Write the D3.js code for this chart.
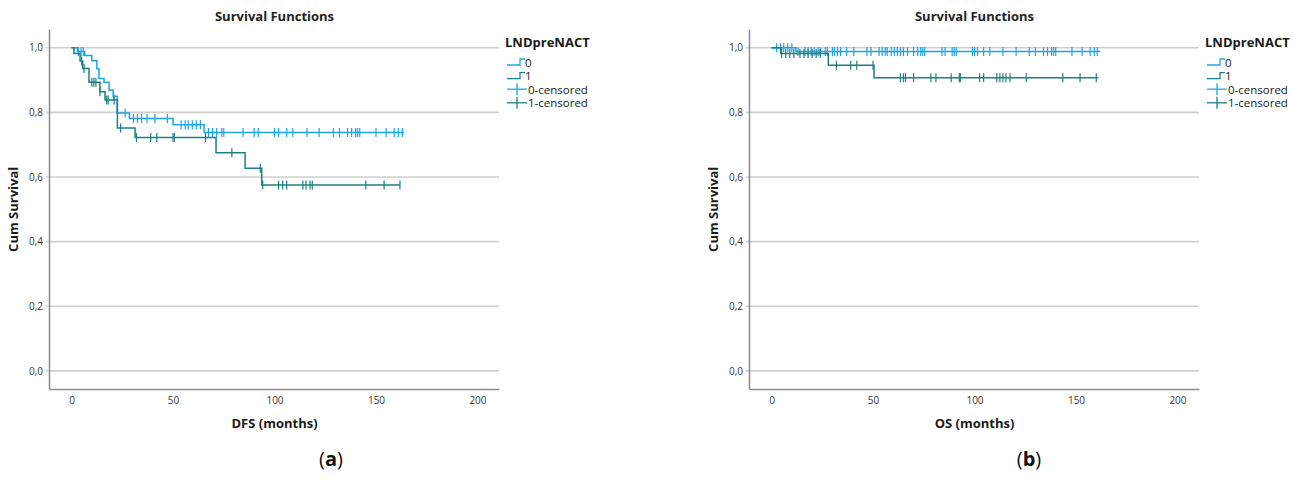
<!DOCTYPE html>
<html>
<head>
<meta charset="utf-8">
<script src="https://cdn.jsdelivr.net/npm/d3@7"></script>
<style>
  body { margin: 0; background: #fff; }
  svg { display: block; }
  text { font-family: "Open Sans", "Noto Sans", sans-serif; }
</style>
</head>
<body>
<svg id="chart" width="1293" height="501"></svg>
<script>
// ---------- DATA ----------
const xTicks = [0, 50, 100, 150, 200];
const yTicks = [0, 0.2, 0.4, 0.6, 0.8, 1.0];
const legendLabels = ["0", "1", "0-censored", "1-censored"];
const groupNames = ["0", "1"];

// DFS, group 0
const dfs0StepTimes = [0, 3, 6.5, 10, 12.5, 13.5, 16, 18.5, 20.5, 22.5, 28.5, 50, 65.3];
const dfs0StepSurv  = [1, 0.988, 0.976, 0.96, 0.935, 0.905, 0.893, 0.869, 0.85, 0.798, 0.781, 0.762, 0.738];
const dfs0End = 163.8;
const dfs0Censored = [3.4, 4.7, 5.8, 20.8, 26.4, 30.5, 32.5, 34.5, 37.2, 41.1, 47.2, 54, 56, 57.5, 59.5, 61.5, 63.5,
  67.5, 69.5, 71.5, 74, 75, 84.5, 90, 92, 100, 102, 106, 109, 116, 122, 129, 132, 136, 138, 140, 141, 142,
  150, 155, 159, 161, 163];

// DFS, group 1
const dfs1StepTimes = [0, 1.2, 4.2, 5.5, 8.6, 14, 16.5, 22.6, 31.3, 71.2, 85.5, 93.7];
const dfs1StepSurv  = [1, 0.982, 0.959, 0.936, 0.893, 0.864, 0.838, 0.752, 0.722, 0.675, 0.627, 0.575];
const dfs1End = 161.8;
const dfs1Censored = [5, 6.2, 10, 11, 12, 14, 17.3, 18.1, 21, 24.2, 32, 39, 42, 50, 50.6, 66, 79, 93,
  94.2, 102, 104, 106, 114, 115.5, 117.5, 118.6, 145, 154, 161.8];

// OS, group 0
const os0StepTimes = [0, 12];
const os0StepSurv  = [1, 0.988];
const os0End = 162;
const os0Censored = [2.5, 4.5, 6, 8, 10, 13, 16.5, 18, 19.5, 21, 23, 24, 26.5, 27.5, 30, 31, 32.5, 34, 37, 40.5,
  47, 49, 53, 54.5, 56, 57, 59, 60.5, 62, 63.5, 65, 67, 70, 72, 73.5, 74.5, 75.5, 84, 85.5, 89, 90, 91,
  99, 100, 101.5, 104.5, 107.5, 114, 120.5, 127, 130, 134, 136, 138, 139, 140, 148, 153, 157, 159, 160.5];

// OS, group 1
const os1StepTimes = [0, 4.5, 28, 50.5];
const os1StepSurv  = [1, 0.982, 0.946, 0.907];
const os1End = 161;
const os1Censored = [5, 7, 9, 11, 14, 16, 18, 20, 22, 24, 32, 39, 42, 50, 63.5, 65, 66, 70, 78.5, 81, 88.5,
  92.5, 93, 102.5, 104.5, 111, 112.5, 114, 115.5, 117.5, 125.5, 143.5, 152, 160];

// ---------- STYLE ----------
const colors = ["#1ea5e9", "#1d8080"];
const gridColor = "#cfcfcf";
const axisColor = "#8c8c8c";

const svg = d3.select("#chart");

function survAt(times, surv, t) {
  let s = surv[0];
  for (let i = 0; i < times.length; i++) if (times[i] <= t) s = surv[i];
  return s;
}

function drawPanel(cfg) {
  const g = svg.append("g");
  const x = d3.scaleLinear().domain([-11.1, 210.6]).range([cfg.left, cfg.left + 450]);
  const y = d3.scaleLinear().domain([-0.056, 1.058]).range([389, 29]);

  // title
  g.append("text").attr("x", x(100)).attr("y", 21).attr("text-anchor", "middle")
    .attr("font-size", 13).attr("font-weight", "bold").attr("fill", "#222").text("Survival Functions");

  // grid lines
  g.selectAll(".grid").data(yTicks).enter().append("line")
    .attr("x1", cfg.left - 3).attr("x2", cfg.left + 450)
    .attr("y1", d => y(d)).attr("y2", d => y(d))
    .attr("stroke", gridColor).attr("stroke-width", 1.6);

  // axes
  const yAxis = d3.axisLeft(y).tickValues(yTicks).tickSize(0).tickPadding(6)
    .tickFormat(d => d3.format(".1f")(d).replace(".", ","));
  const ya = g.append("g").attr("transform", `translate(${cfg.left},0)`).call(yAxis);
  ya.select(".domain").attr("stroke", axisColor).attr("stroke-width", 1.5);
  ya.selectAll("text").attr("font-size", 10).attr("fill", "#3a3530");

  const xAxis = d3.axisBottom(x).tickValues(xTicks).tickSize(0).tickPadding(8);
  const xa = g.append("g").attr("transform", `translate(0,389)`).call(xAxis);
  xa.select(".domain").attr("stroke", axisColor).attr("stroke-width", 1.5);
  xa.selectAll("text").attr("font-size", 10).attr("fill", "#3a3530");

  // axis titles
  g.append("text").attr("x", x(100)).attr("y", 428).attr("text-anchor", "middle")
    .attr("font-size", 13).attr("font-weight", "bold").attr("fill", "#1a1a1a").text(cfg.xTitle);
  g.append("text").attr("transform", `translate(${cfg.left - 31},${y(0.5)}) rotate(-90)`)
    .attr("text-anchor", "middle").attr("font-size", 13).attr("font-weight", "bold")
    .attr("fill", "#1a1a1a").text("Cum Survival");

  // curves
  const line = d3.line().x(d => x(d[0])).y(d => y(d[1])).curve(d3.curveStepAfter);
  cfg.series.forEach((s, i) => {
    const pts = s.times.map((t, k) => [t, s.surv[k]]);
    pts.push([s.end, s.surv[s.surv.length - 1]]);
    g.append("path").datum(pts).attr("d", line).attr("fill", "none")
      .attr("stroke", colors[i]).attr("stroke-width", 1.5);
    g.selectAll(".c" + i).data(s.censored).enter().append("line")
      .attr("x1", d => x(d)).attr("x2", d => x(d))
      .attr("y1", d => y(survAt(s.times, s.surv, d)) - 4.5)
      .attr("y2", d => y(survAt(s.times, s.surv, d)) + 4.5)
      .attr("stroke", colors[i]).attr("stroke-width", 1.2);
  });

  // legend
  const lx = cfg.left + 456;
  g.append("text").attr("x", lx).attr("y", 47).attr("font-size", 13).attr("font-weight", "bold")
    .attr("fill", "#1a1a1a").text("LNDpreNACT");
  legendLabels.forEach((lab, i) => {
    const cy = 62 + i * 13.6;
    const col = colors[i % 2];
    if (i < 2) {
      g.append("path").attr("d", `M${lx + 2},${cy + 3}H${lx + 15}V${cy - 3}H${lx + 20}`)
        .attr("fill", "none").attr("stroke", col).attr("stroke-width", 1.3);
    } else {
      g.append("line").attr("x1", lx + 2).attr("x2", lx + 22).attr("y1", cy).attr("y2", cy)
        .attr("stroke", col).attr("stroke-width", 1.3);
      g.append("line").attr("x1", lx + 12).attr("x2", lx + 12).attr("y1", cy - 6).attr("y2", cy + 6)
        .attr("stroke", col).attr("stroke-width", 1.3);
    }
    g.append("text").attr("x", lx + (i < 2 ? 20 : 23)).attr("y", cy + 4.5).attr("font-size", 11.5)
      .attr("fill", "#1a1a1a").text(lab);
  });

  // caption
  const cap = g.append("text").attr("x", cfg.capX).attr("y", 466).attr("text-anchor", "middle")
    .attr("font-family", "'DejaVu Serif', 'Liberation Serif', serif").attr("font-size", 20).attr("fill", "#111");
  cap.append("tspan").text("(");
  cap.append("tspan").attr("font-weight", "bold").text(cfg.cap);
  cap.append("tspan").text(")");
}

drawPanel({
  left: 49, xTitle: "DFS (months)", cap: "a", capX: 331,
  series: [
    {times: dfs0StepTimes, surv: dfs0StepSurv, end: dfs0End, censored: dfs0Censored},
    {times: dfs1StepTimes, surv: dfs1StepSurv, end: dfs1End, censored: dfs1Censored}
  ]
});
drawPanel({
  left: 749, xTitle: "OS (months)", cap: "b", capX: 1029,
  series: [
    {times: os0StepTimes, surv: os0StepSurv, end: os0End, censored: os0Censored},
    {times: os1StepTimes, surv: os1StepSurv, end: os1End, censored: os1Censored}
  ]
});
</script>
</body>
</html>
